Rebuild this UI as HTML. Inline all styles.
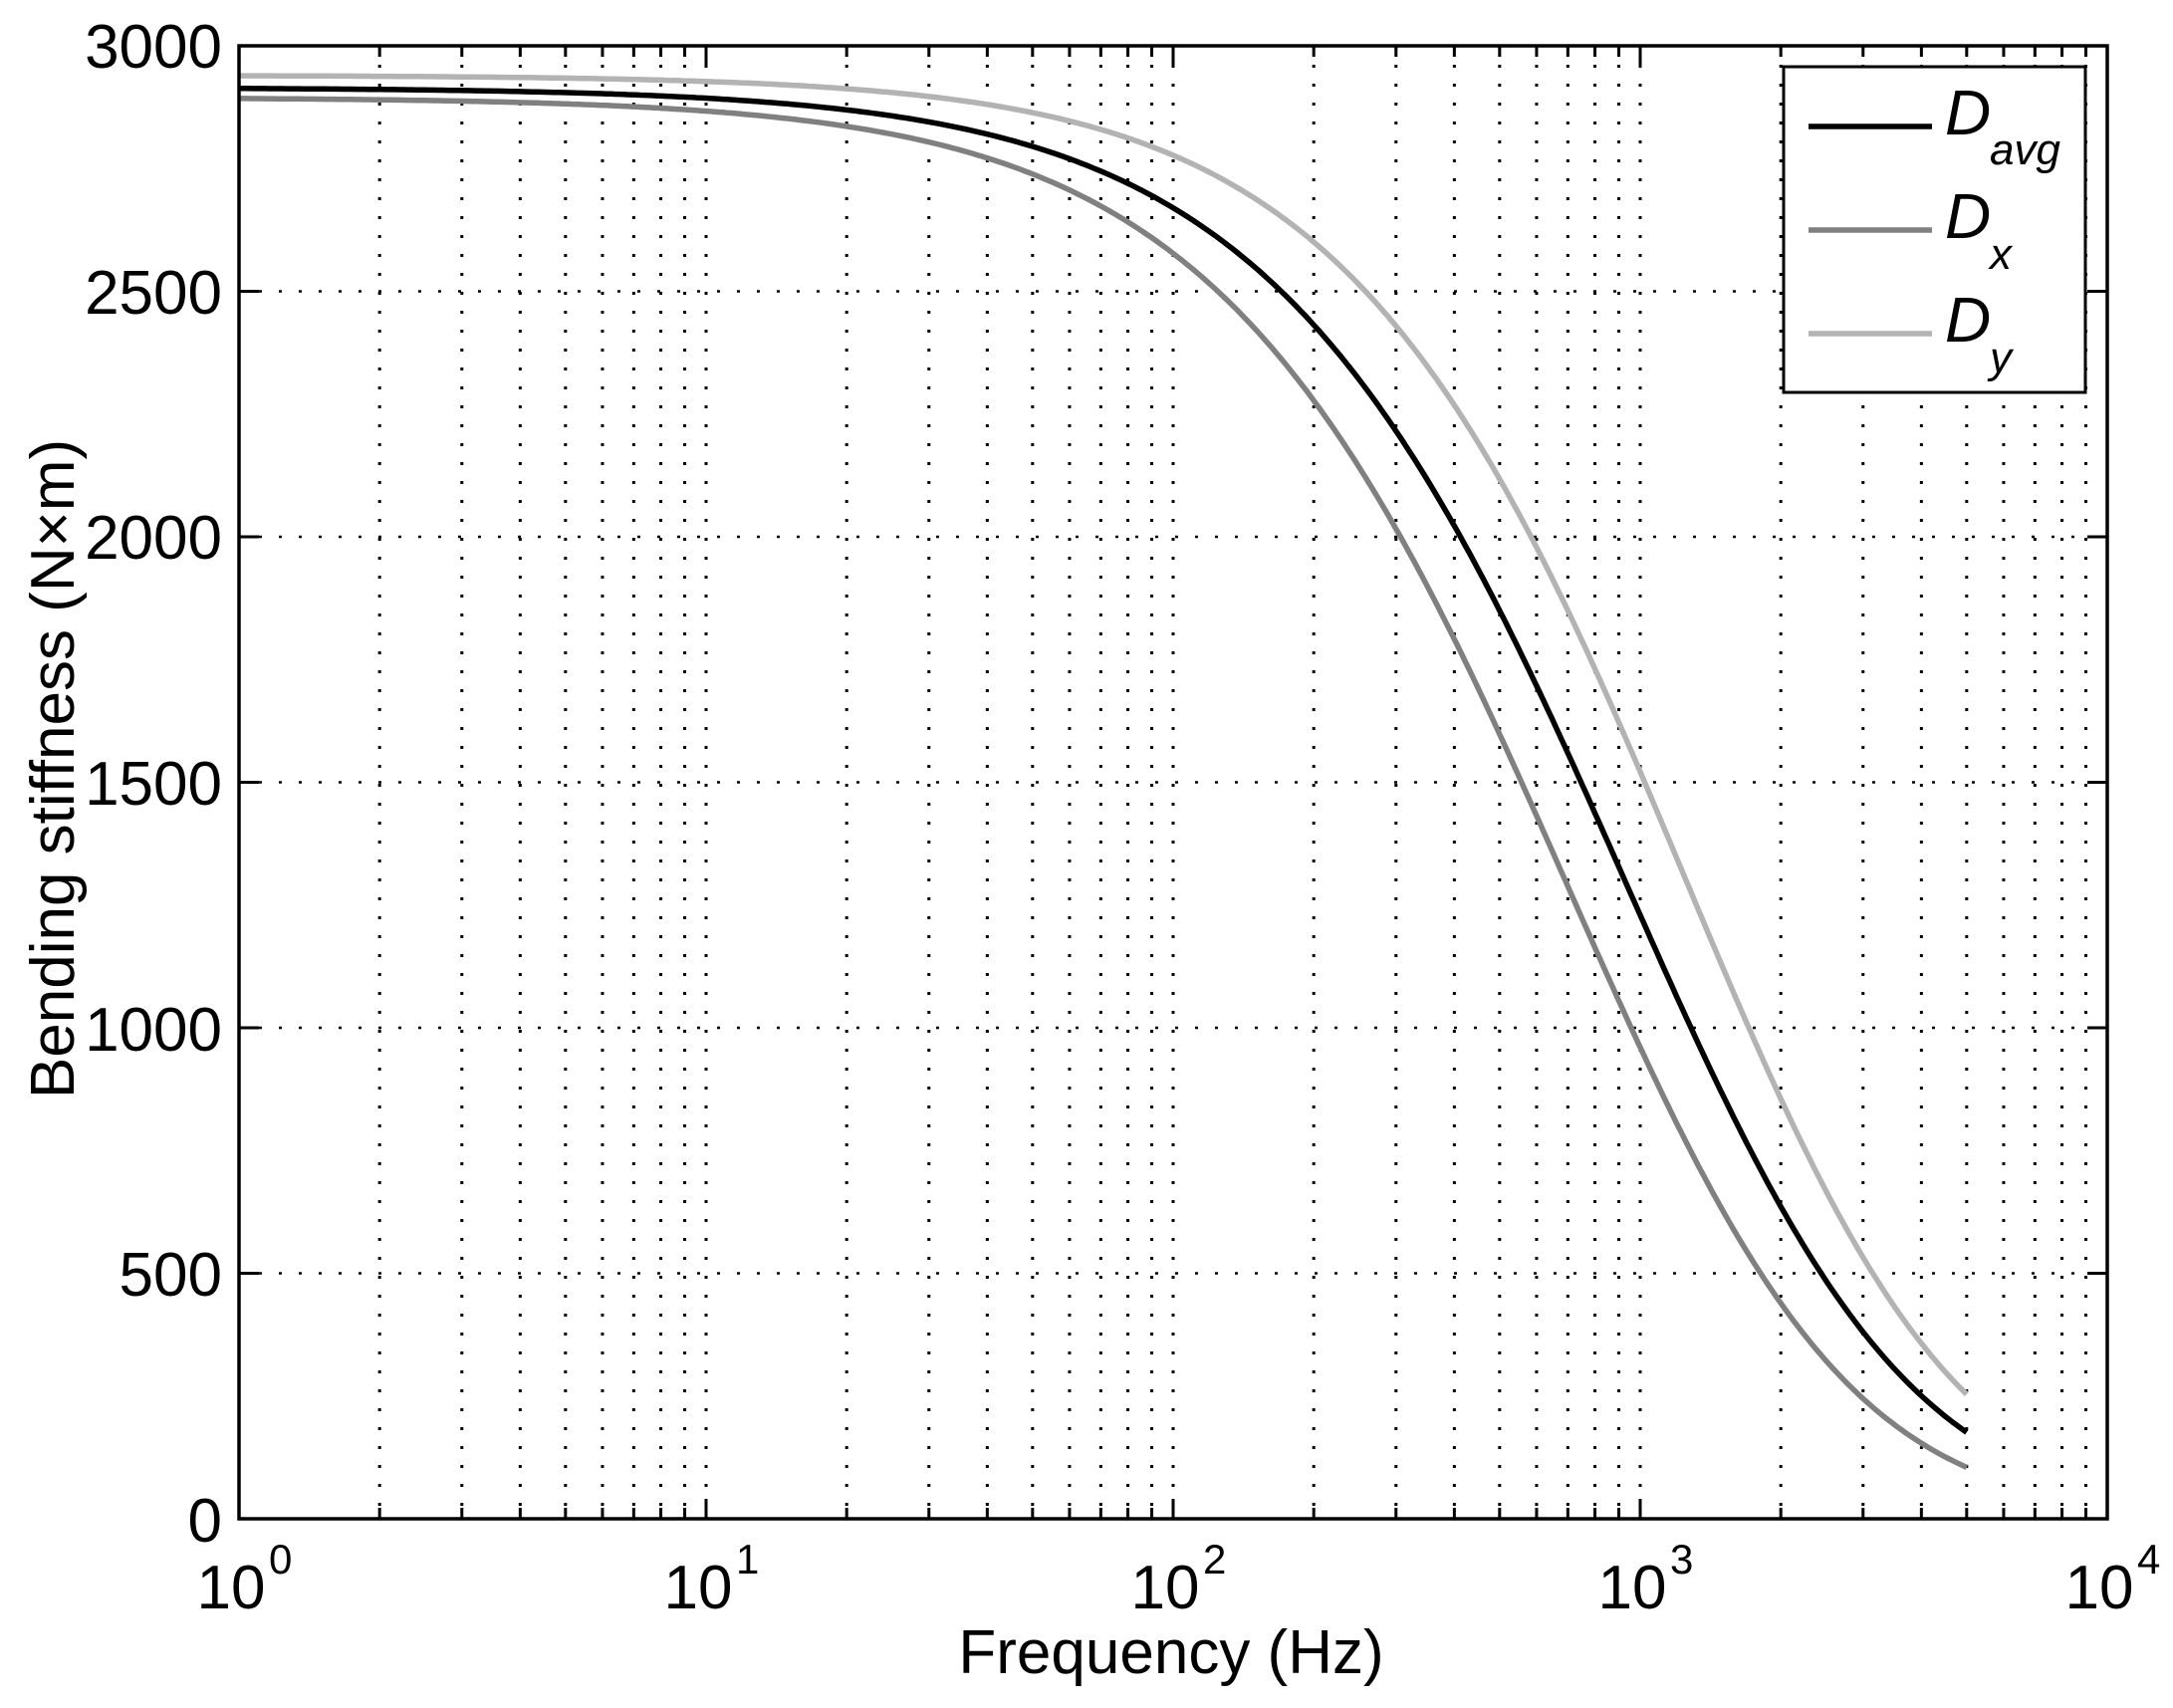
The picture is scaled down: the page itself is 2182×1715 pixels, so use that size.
<!DOCTYPE html>
<html><head><meta charset="utf-8"><style>
html,body{margin:0;padding:0;background:#fff;}
svg{display:block;}
text{font-family:"Liberation Sans",Arial,sans-serif;fill:#000;}
</style></head><body>
<svg id="s" width="2182" height="1715" viewBox="0 0 2182 1715" xmlns="http://www.w3.org/2000/svg">
<rect width="2182" height="1715" fill="#fff"/>
<g id="grid"></g>
<g id="curves"></g>
<g id="ticks"></g>
<rect x="240" y="46" width="1876" height="1479" fill="none" stroke="#000" stroke-width="3.5"/>
<g font-size="62" text-anchor="end">
<text x="223" y="68">3000</text>
<text x="223" y="315">2500</text>
<text x="223" y="561">2000</text>
<text x="223" y="808">1500</text>
<text x="223" y="1055">1000</text>
<text x="223" y="1301">500</text>
<text x="223" y="1548">0</text>
</g>
<g id="xl" font-size="62"></g>
<text x="1176" y="1680" font-size="62" text-anchor="middle">Frequency (Hz)</text>
<text transform="translate(74,772) rotate(-90)" font-size="62" text-anchor="middle">Bending stiffness (N×m)</text>
<rect x="1791" y="67" width="303" height="327" fill="#fff" stroke="#000" stroke-width="3"/>
<line x1="1816" y1="127" x2="1940" y2="127" stroke="#000" stroke-width="5.5"/>
<line x1="1816" y1="231" x2="1940" y2="231" stroke="#808080" stroke-width="5.5"/>
<line x1="1816" y1="335" x2="1940" y2="335" stroke="#b3b3b3" stroke-width="5.5"/>
<g font-size="64" font-style="italic">
<text x="1953" y="135">D</text><text x="1998" y="165" font-size="44">avg</text>
<text x="1953" y="239">D</text><text x="1998" y="270" font-size="44">x</text>
<text x="1953" y="343">D</text><text x="1998" y="374" font-size="44">y</text>
</g>
</svg>
<script>
(function(){
var NS="http://www.w3.org/2000/svg";
var L=240,R=2116,T=46,B=1525,DW=(R-L)/4;
function X(lf){return L+lf*DW;}
function Y(v){return B-(v/3000)*(B-T);}
function el(tag,attrs,parent){var e=document.createElementNS(NS,tag);for(var k in attrs)e.setAttribute(k,attrs[k]);parent.appendChild(e);return e;}
var g=document.getElementById('grid'),tk=document.getElementById('ticks'),xl=document.getElementById('xl');
for(var d=0;d<4;d++){for(var m=1;m<=9;m++){var lf=d+Math.log10(m);var x=X(lf);
 if(!(d==0&&m==1)) el('line',{x1:x,y1:T,x2:x,y2:B,stroke:'#000','stroke-width':3,'stroke-dasharray':'3 16'},g);
 var len=(m==1)?20:11;
 el('line',{x1:x,y1:B,x2:x,y2:B-len,stroke:'#000','stroke-width':3},tk);
 el('line',{x1:x,y1:T,x2:x,y2:T+len,stroke:'#000','stroke-width':3},tk);
}}
for(var v=500;v<3000;v+=500){var y=Y(v);
 el('line',{x1:L,y1:y,x2:R,y2:y,stroke:'#000','stroke-width':2.5,'stroke-dasharray':'3 17'},g);
 el('line',{x1:L,y1:y,x2:L+20,y2:y,stroke:'#000','stroke-width':3},tk);
 el('line',{x1:R,y1:y,x2:R-20,y2:y,stroke:'#000','stroke-width':3},tk);}
for(var d=0;d<=4;d++){var x=X(d);
 var t=el('text',{x:x-8,y:1615,'text-anchor':'middle'},xl);t.textContent='10';
 var e=el('text',{x:x+30,y:1580,'font-size':42},xl);e.textContent=String(d);}
var series=[
 {c:'#b3b3b3',D0:2940,fc:2300,a:1.13},
 {c:'#808080',D0:2895,fc:1324,a:1.09},
 {c:'#000',D0:2915,fc:1770,a:1.08}];
var cv=document.getElementById('curves');
series.forEach(function(s){var p='';
 for(var k=0;k<=400;k++){var lf=3.699*k/400,f=Math.pow(10,lf);
  var val=s.D0/Math.pow(1+Math.pow(f/s.fc,s.a),2);
  p+=(k?'L':'M')+X(lf).toFixed(1)+' '+Y(val).toFixed(1);}
 el('path',{d:p,fill:'none',stroke:s.c,'stroke-width':5.5,'stroke-linejoin':'round'},cv);});
})();
</script>
</body></html>
